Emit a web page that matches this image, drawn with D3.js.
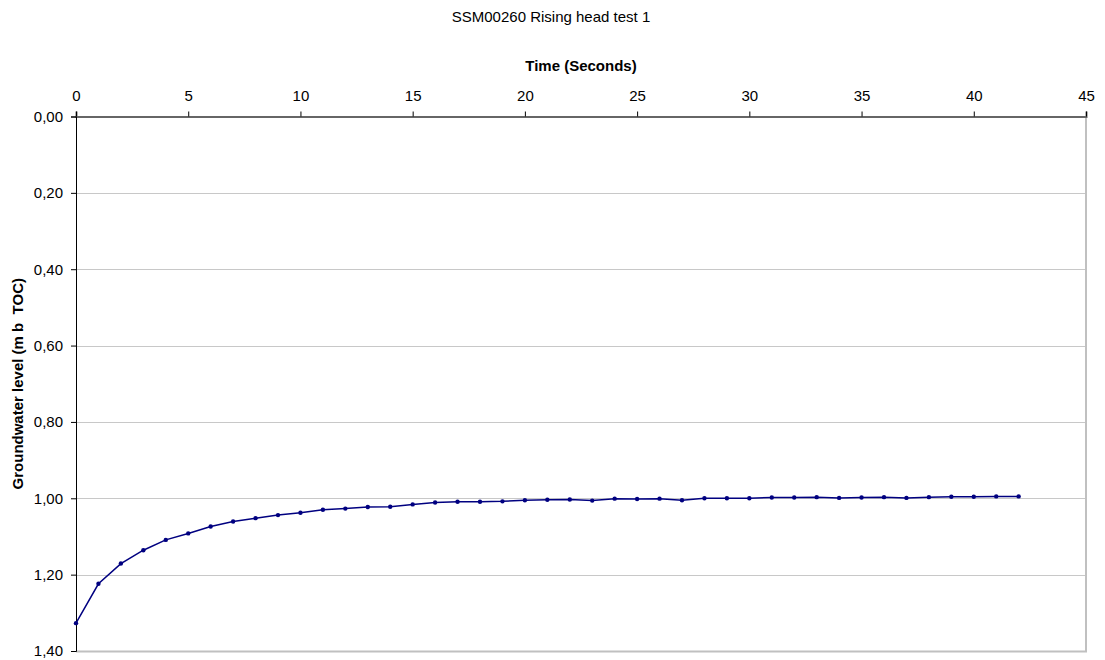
<!DOCTYPE html>
<html>
<head>
<meta charset="utf-8">
<script src="https://cdn.jsdelivr.net/npm/d3@7"></script>
<style>
  html, body { margin: 0; padding: 0; background: #fff; }
  svg { display: block; font-family: "Liberation Sans", Arial, sans-serif; }
</style>
</head>
<body>
<svg id="chart" width="1105" height="660"></svg>
<script>
// Rising head test: elapsed time (s) against groundwater level (m below top of casing)
const timeSeconds = [0, 1, 2, 3, 4, 5, 6, 7, 8, 9, 10, 11, 12, 13, 14, 15, 16, 17, 18, 19, 20,
  21, 22, 23, 24, 25, 26, 27, 28, 29, 30, 31, 32, 33, 34, 35, 36, 37, 38, 39, 40, 41, 42];
const levelMbToc = [1.327, 1.224, 1.171, 1.136, 1.109, 1.092, 1.074, 1.061, 1.052, 1.044, 1.038,
  1.030, 1.027, 1.023, 1.022, 1.016, 1.011, 1.009, 1.009, 1.008, 1.005, 1.004, 1.003, 1.006,
  1.001, 1.002, 1.001, 1.005, 1.000, 1.000, 1.000, 0.998, 0.998, 0.997, 0.999, 0.998, 0.997,
  0.999, 0.997, 0.996, 0.996, 0.995, 0.995];
const xTicks = [0, 5, 10, 15, 20, 25, 30, 35, 40, 45];
const yTicks = [0, 0.2, 0.4, 0.6, 0.8, 1.0, 1.2, 1.4];

const chartTitle = "SSM00260 Rising head test 1";
const xTitle = "Time (Seconds)";
const yTitle = "Groundwater level (m b  TOC)";

const svg = d3.select("#chart");
const plotLeft = 76, plotRight = 1086, plotTop = 116.5, plotBottom = 651;
const fontSize = 15;

const x = d3.scaleLinear().domain([0, 45]).range([plotLeft, plotRight]);
const y = d3.scaleLinear().domain([0, 1.4]).range([plotTop, plotBottom]);
const fmt = v => d3.format(".2f")(v).replace(".", ",");

// horizontal gridlines
svg.append("g")
  .selectAll("line")
  .data(yTicks.slice(1))
  .join("line")
  .attr("x1", plotLeft).attr("x2", plotRight)
  .attr("y1", d => Math.round(y(d)) + 0.5).attr("y2", d => Math.round(y(d)) + 0.5)
  .attr("stroke", "#c8c8c8").attr("stroke-width", 1);

// right and bottom frame
svg.append("path")
  .attr("d", `M${plotRight},${plotTop}V${plotBottom + 0.5}H${plotLeft}`)
  .attr("fill", "none").attr("stroke", "#c0c0c0").attr("stroke-width", 2);

// top axis: time
const xAxis = svg.append("g")
  .attr("transform", `translate(0,${plotTop})`)
  .call(d3.axisTop(x).tickValues(xTicks).tickSize(5).tickPadding(11).tickFormat(d3.format("d")));
xAxis.select(".domain").attr("stroke", "#666").attr("stroke-width", 2);
xAxis.selectAll(".tick line").attr("stroke", "#000");
xAxis.selectAll("text").attr("font-size", fontSize).attr("fill", "#000")
  .attr("font-family", "Liberation Sans, Arial, sans-serif");

// left axis: level
const yAxis = svg.append("g")
  .attr("transform", `translate(${plotLeft},0)`)
  .call(d3.axisLeft(y).tickValues(yTicks).tickSize(5).tickPadding(8).tickFormat(fmt));
yAxis.select(".domain").attr("stroke", "#000").attr("stroke-width", 1);
yAxis.selectAll(".tick line").attr("stroke", "#000");
yAxis.selectAll("text").attr("font-size", fontSize).attr("fill", "#000")
  .attr("font-family", "Liberation Sans, Arial, sans-serif");

// series
const pts = timeSeconds.map((t, i) => [t, levelMbToc[i]]);
svg.append("path")
  .datum(pts)
  .attr("d", d3.line().x(d => x(d[0])).y(d => y(d[1])))
  .attr("fill", "none").attr("stroke", "#000080").attr("stroke-width", 1.5);
svg.append("g")
  .selectAll("circle")
  .data(pts)
  .join("circle")
  .attr("cx", d => x(d[0])).attr("cy", d => y(d[1])).attr("r", 2.2)
  .attr("fill", "#000080");

// titles
svg.append("text")
  .attr("x", 551).attr("y", 22)
  .attr("text-anchor", "middle").attr("font-size", fontSize).attr("fill", "#000")
  .text(chartTitle);
svg.append("text")
  .attr("x", (plotLeft + plotRight) / 2).attr("y", 71)
  .attr("text-anchor", "middle").attr("font-size", fontSize).attr("font-weight", "bold").attr("fill", "#000")
  .text(xTitle);
svg.append("text")
  .attr("transform", `translate(23,${(plotTop + plotBottom) / 2}) rotate(-90)`)
  .attr("text-anchor", "middle").attr("font-size", fontSize).attr("font-weight", "bold").attr("fill", "#000")
  .style("white-space", "pre")
  .text(yTitle);
</script>
</body>
</html>
